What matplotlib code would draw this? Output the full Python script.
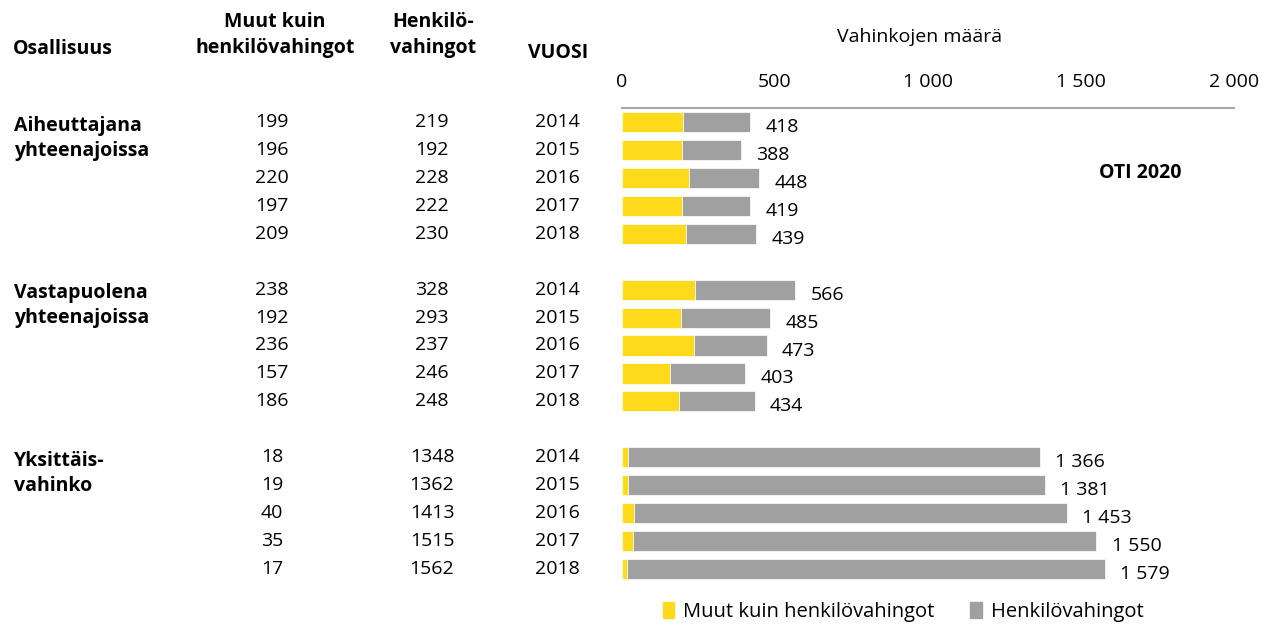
import matplotlib.pyplot as plt
from matplotlib.patches import Patch
from matplotlib.transforms import blended_transform_factory

plt.rcParams['font.family'] = ['Open Sans', 'DejaVu Sans']

# data
groups = ['Aiheuttajana\nyhteenajoissa', 'Vastapuolena\nyhteenajoissa', 'Yksittäis-\nvahinko']
years = [2014, 2015, 2016, 2017, 2018]
muut = [[199, 196, 220, 197, 209],
        [238, 192, 236, 157, 186],
        [18, 19, 40, 35, 17]]
henk = [[219, 192, 228, 222, 230],
        [328, 293, 237, 246, 248],
        [1348, 1362, 1413, 1515, 1562]]
xticks = [0, 500, 1000, 1500, 2000]

yellow = '#FFDA1A'
grey = '#A0A0A0'
fs = 14


def fmt(v):
    return f'{v:,}'.replace(',', ' ')


fig = plt.figure(figsize=(12.69, 6.28), dpi=100)
ax = fig.add_axes([622 / 1269, 1 - 583 / 628, 612 / 1269, 475 / 628])

# pixel x -> axes fraction
def ax_x(px):
    return (px - 622) / 612

tr = blended_transform_factory(ax.transAxes, ax.transData)

for g in range(len(groups)):
    for i, yr in enumerate(years):
        pos = g * 6 + i
        m = muut[g][i]
        h = henk[g][i]
        ax.barh(pos, m, height=0.72, color=yellow, edgecolor='white', linewidth=0.5)
        ax.barh(pos, h, left=m, height=0.72, color=grey, edgecolor='white', linewidth=0.5)
        ax.text(m + h + 50, pos + 0.18, fmt(m + h), va='center', ha='left', fontsize=fs)
        ax.text(ax_x(272), pos, str(m), transform=tr, ha='center', va='center', fontsize=fs)
        ax.text(ax_x(432), pos, str(h), transform=tr, ha='center', va='center', fontsize=fs)
        ax.text(ax_x(557), pos, str(yr), transform=tr, ha='center', va='center', fontsize=fs)
    ax.text(ax_x(14), g * 6 + 0.58, groups[g], transform=tr, ha='left', va='center',
            fontsize=fs, fontweight='bold', linespacing=1.35)

ax.set_xlim(0, 2000)
ax.set_ylim(16.5, -0.5)
ax.set_xticks(xticks)
ax.set_xticklabels([fmt(t) for t in xticks], fontsize=fs)
ax.xaxis.tick_top()
ax.tick_params(axis='x', length=0, pad=12)
ax.set_yticks([])
for s in ['left', 'right', 'bottom']:
    ax.spines[s].set_visible(False)
ax.spines['top'].set_color('#A6A6A6')
ax.spines['top'].set_linewidth(1.5)

# headers
fig.text(13 / 1269, 1 - 49 / 628, 'Osallisuus', ha='left', va='center', fontsize=fs, fontweight='bold')
fig.text(275 / 1269, 1 - 35 / 628, 'Muut kuin\nhenkilövahingot', ha='center', va='center',
         fontsize=fs, fontweight='bold', linespacing=1.35)
fig.text(433 / 1269, 1 - 35 / 628, 'Henkilö-\nvahingot', ha='center', va='center',
         fontsize=fs, fontweight='bold', linespacing=1.35)
fig.text(558 / 1269, 1 - 53 / 628, 'VUOSI', ha='center', va='center', fontsize=fs, fontweight='bold')
fig.text(920 / 1269, 1 - 37 / 628, 'Vahinkojen määrä', ha='center', va='center', fontsize=fs)
fig.text(1140 / 1269, 1 - 173 / 628, 'OTI 2020', ha='center', va='center', fontsize=fs, fontweight='bold')

handles = [Patch(color=yellow, label='Muut kuin henkilövahingot'),
           Patch(color=grey, label='Henkilövahingot')]
fig.legend(handles=handles, loc='center', bbox_to_anchor=(903 / 1269, 1 - 612 / 628), ncol=2,
           frameon=False, fontsize=14.5, handlelength=0.55, handleheight=0.8, handletextpad=0.45,
           columnspacing=1.8)

fig.savefig('out.png', dpi=100)
